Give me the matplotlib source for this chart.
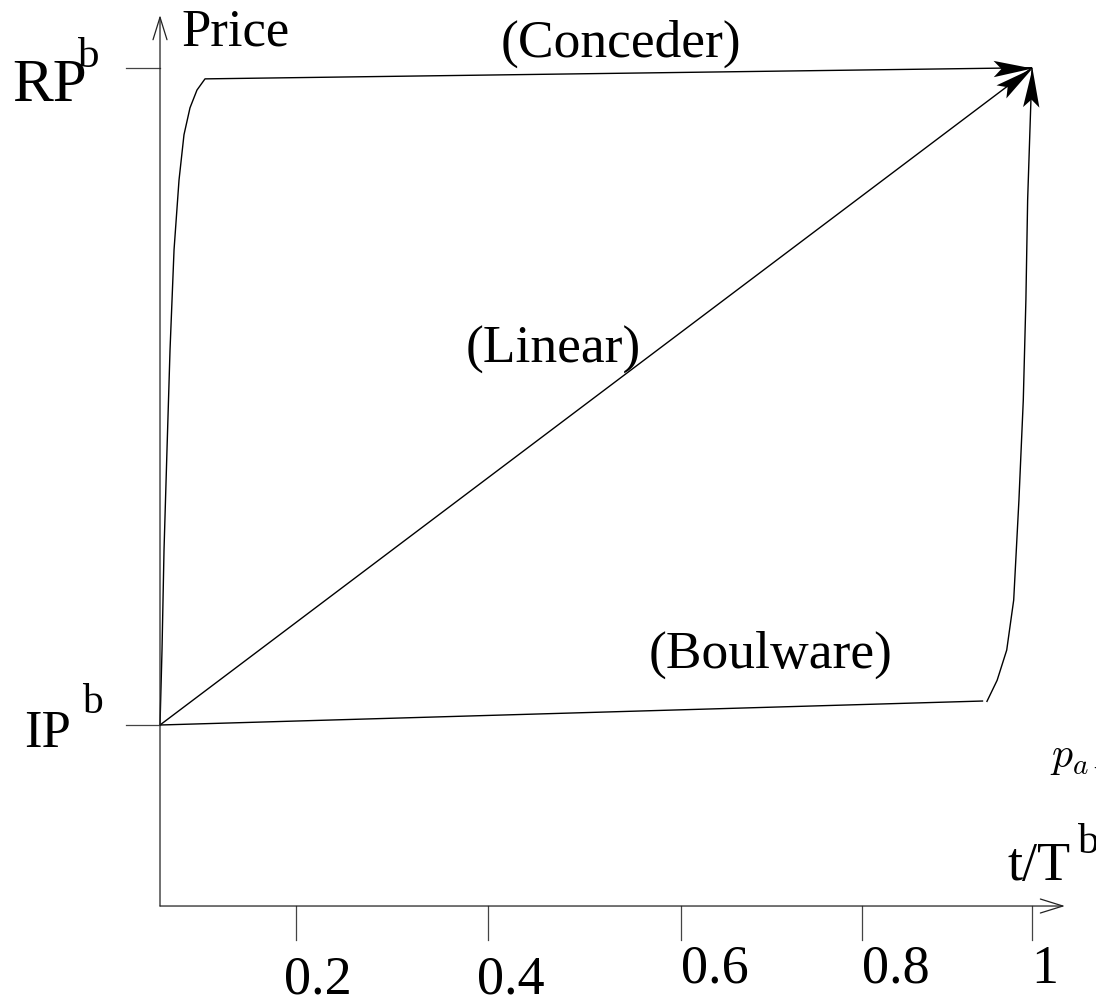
import numpy as np
import matplotlib
matplotlib.use('Agg')
import matplotlib.pyplot as plt
from matplotlib.path import Path
from matplotlib.markers import MarkerStyle
from matplotlib.transforms import Affine2D

plt.rcParams['font.family'] = ['Liberation Serif', 'DejaVu Serif']
plt.rcParams['mathtext.fontset'] = 'cm'

# time axis (t/T^b) and normalised price (0 = IP^b, 1 = RP^b)
linear_t = [0.0, 1.0]
linear_p = [0.0, 1.0]

conceder_t = [0.0, 0.0023, 0.0046, 0.0080, 0.0115, 0.0161, 0.0218, 0.0275,
              0.0344, 0.0424, 0.0516, 1.0]
conceder_p = [0.0, 0.114, 0.266, 0.418, 0.571, 0.723, 0.829, 0.898,
              0.939, 0.966, 0.983, 1.0]

boulware_line_t = [0.0, 0.944]
boulware_line_p = [0.0, 0.0365]
boulware_t = [0.948, 0.960, 0.971, 0.979, 0.985, 0.990, 0.993, 0.995,
              0.998, 1.0]
boulware_p = [0.035, 0.068, 0.114, 0.190, 0.342, 0.494, 0.647, 0.799,
              0.920, 1.0]

tick_pos = [0.156, 0.376, 0.597, 0.805, 1.0]
tick_labels = ['0.2', '0.4', '0.6', '0.8', '1']

fig = plt.figure(figsize=(10.96, 10.02), dpi=100)
ax = fig.add_axes([0, 0, 1, 1])
ax.set_xlim(-0.18349, 1.07339)
ax.set_ylim(-0.42142, 1.10300)
ax.axis('off')

x_axis_y = -0.2754
y_axis_top = 1.080
x_axis_right = 1.0378

# axes with open arrow heads
arrow_kw = dict(arrowstyle='->,head_length=0.45,head_width=0.14',
                lw=0.9, color='#222222', shrinkA=0, shrinkB=0,
                mutation_scale=36)
ax.annotate('', xy=(x_axis_right, x_axis_y), xytext=(0, x_axis_y),
            arrowprops=arrow_kw)
ax.annotate('', xy=(0, y_axis_top), xytext=(0, x_axis_y),
            arrowprops=arrow_kw)

# tick marks
tick_len = 34 / 657.3
for tp in tick_pos:
    ax.plot([tp, tp], [x_axis_y, x_axis_y - tick_len], color='#444444', lw=0.9)
ax.plot([-34 / 872, 0], [1.0, 1.0], color='#444444', lw=0.9)
ax.plot([-34 / 872, 0], [0.0, 0.0], color='#444444', lw=0.9)

# tick labels (offset in pixels from the tick, baseline in data units)
label_dx = [-12, -11, 0, 0, -1]
label_base = [-0.4078, -0.4078, -0.3925, -0.3925, -0.3925]
for tp, lab, dx, yb in zip(tick_pos, tick_labels, label_dx, label_base):
    ax.text(tp + dx / 872, yb, lab, fontsize=39, ha='left', va='baseline')

# strategy curves
line_kw = dict(color='black', lw=1.0, solid_capstyle='butt')
ax.plot(linear_t, linear_p, **line_kw)
ax.plot(conceder_t, conceder_p, **line_kw)
ax.plot(boulware_line_t, boulware_line_p, **line_kw)
ax.plot(boulware_t, boulware_p, **line_kw)

# filled notched arrow heads at the end of each curve
head = Path([(0, 0), (-1, 0.21), (-0.8, 0), (-1, -0.21), (0, 0)],
            [Path.MOVETO, Path.LINETO, Path.LINETO, Path.LINETO,
             Path.CLOSEPOLY])


def arrow_head(xs, ys):
    p0 = ax.transData.transform((xs[-2], ys[-2]))
    p1 = ax.transData.transform((xs[-1], ys[-1]))
    ang = np.degrees(np.arctan2(p1[1] - p0[1], p1[0] - p0[0]))
    m = MarkerStyle(head, transform=Affine2D().rotate_deg(ang))
    ax.plot([xs[-1]], [ys[-1]], marker=m, markersize=56,
            color='black', markeredgewidth=0, linestyle='none')


arrow_head(linear_t, linear_p)
arrow_head(conceder_t, conceder_p)
arrow_head(boulware_t, boulware_p)

# labels
ax.text(0.0245, 1.0345, 'Price', fontsize=38, ha='left', va='baseline')
ax.text(0.391, 1.016, '(Conceder)', fontsize=38.5, ha='left', va='baseline')
ax.text(0.350, 0.551, '(Linear)', fontsize=38.5, ha='left', va='baseline')
ax.text(0.560, 0.0867, '(Boulware)', fontsize=38.5, ha='left', va='baseline')

ax.text(-0.1700, 0.949, 'RP', fontsize=44, ha='left', va='baseline')
ax.text(-0.094, 1.001, 'b', fontsize=31, ha='left', va='baseline')
ax.text(-0.156, -0.0335, 'IP', fontsize=38, ha='left', va='baseline')
ax.text(-0.0894, 0.018, 'b', fontsize=30, ha='left', va='baseline')

ax.text(0.972, -0.236, 't/T', fontsize=39, ha='left', va='baseline')
ax.text(1.053, -0.195, 'b', fontsize=31, ha='left', va='baseline')
ax.text(1.021, -0.065, r'$p_{a\rightarrow b}$', fontsize=30,
        ha='left', va='baseline')

fig.savefig('out.png', dpi=100)
